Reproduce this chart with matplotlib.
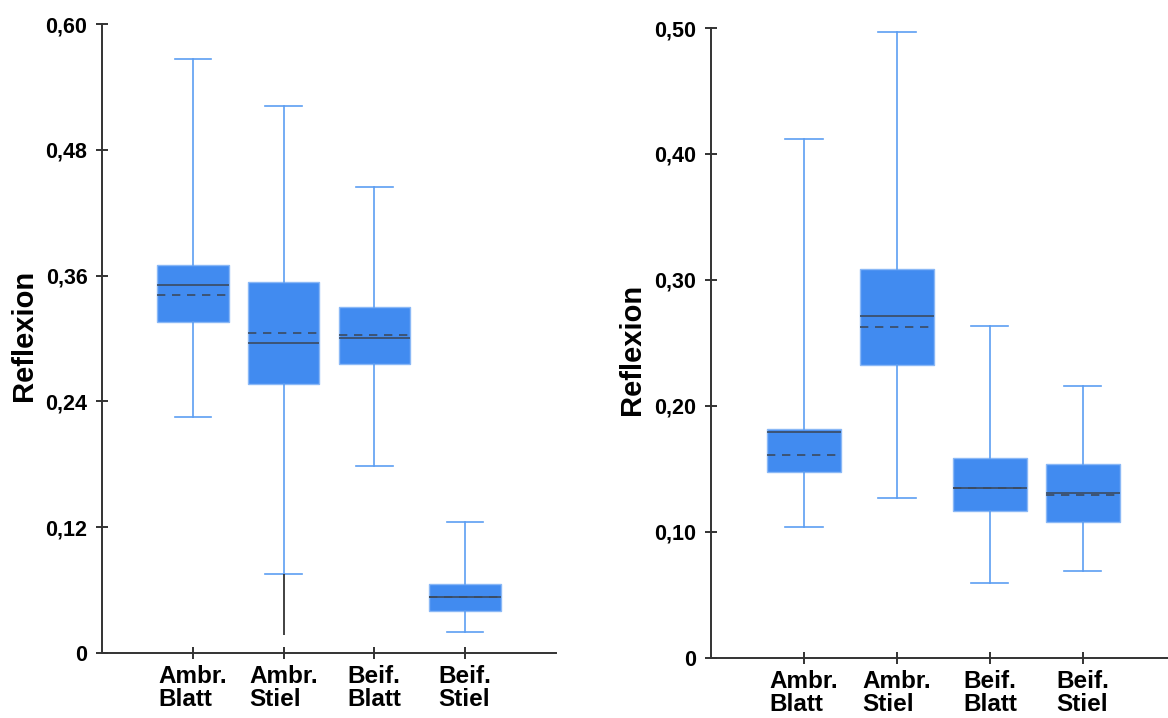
import matplotlib.pyplot as plt

plt.rcParams['font.family'] = ['Liberation Sans', 'DejaVu Sans']

# Kategorien
cats = ['Ambr.\nBlatt', 'Ambr.\nStiel', 'Beif.\nBlatt', 'Beif.\nStiel']

# linkes Diagramm
l_whislo = [0.225, 0.0755, 0.1786, 0.020]
l_q1 = [0.316, 0.257, 0.276, 0.0405]
l_med = [0.351, 0.296, 0.3005, 0.0536]
l_mean = [0.3415, 0.305, 0.303, 0.0536]
l_q3 = [0.370, 0.354, 0.330, 0.0658]
l_whishi = [0.567, 0.522, 0.4445, 0.1246]
l_min_extra = [None, 0.0175, None, None]  # schwarze Linie unter dem Whisker
l_yticks = [0, 0.12, 0.24, 0.36, 0.48, 0.60]

# rechtes Diagramm
r_whislo = [0.104, 0.127, 0.0594, 0.0687]
r_q1 = [0.1475, 0.2325, 0.1167, 0.108]
r_med = [0.1795, 0.2717, 0.1352, 0.131]
r_mean = [0.161, 0.263, 0.135, 0.129]
r_q3 = [0.1817, 0.309, 0.1587, 0.154]
r_whishi = [0.412, 0.4965, 0.2633, 0.2155]
r_yticks = [0, 0.10, 0.20, 0.30, 0.40, 0.50]

FILL = '#418bf0'
WHISK = '#5c9ef2'
LINE = '#3b4b60'


def fmt(v):
    if v == 0:
        return '0'
    return ('%.2f' % v).replace('.', ',')


def draw(ax, whislo, q1, med, mean, q3, whishi, yticks, ymax, extra=None):
    stats = []
    for i in range(len(cats)):
        stats.append(dict(whislo=whislo[i], q1=q1[i], med=med[i], mean=mean[i],
                          q3=q3[i], whishi=whishi[i], fliers=[]))
    pos = list(range(1, len(cats) + 1))
    ax.bxp(stats, positions=pos, widths=0.79, patch_artist=True,
           showmeans=True, meanline=True, showfliers=False,
           boxprops=dict(facecolor=FILL, edgecolor='#8ab8f6', linewidth=1.0),
           whiskerprops=dict(color=WHISK, linewidth=1.2),
           capprops=dict(color=WHISK, linewidth=1.2),
           capwidths=0.4,
           medianprops=dict(color=LINE, linewidth=1.2),
           meanprops=dict(color=LINE, linewidth=1.2, linestyle=(0, (5, 4))))
    if extra:
        for p, lo, e in zip(pos, whislo, extra):
            if e is not None:
                ax.vlines(p, e, lo, color='#333333', linewidth=1.3)
    ax.set_xlim(0, 5)
    ax.set_ylim(0, ymax)
    ax.set_yticks(yticks)
    ax.set_yticklabels([fmt(v) for v in yticks])
    ax.set_xticks(pos)
    ax.set_xticklabels(cats, ha='center', multialignment='left', linespacing=1.0)
    for s in ['top', 'right']:
        ax.spines[s].set_visible(False)
    for s in ['left', 'bottom']:
        ax.spines[s].set_color('#333333')
        ax.spines[s].set_linewidth(1.4)
    ax.tick_params(direction='inout', length=9, width=1.4, color='#333333')
    ax.tick_params(axis='y', labelsize=15.5, pad=6)
    ax.tick_params(axis='x', labelsize=17.5, pad=4)
    for lab in ax.get_xticklabels() + ax.get_yticklabels():
        lab.set_fontweight('bold')
    ax.set_ylabel('Reflexion', fontsize=21, fontweight='bold')


fig = plt.figure(figsize=(11.68, 7.18), dpi=100)
ax1 = fig.add_axes([0.0873, 0.0905, 0.3887, 0.876])
ax2 = fig.add_axes([0.6087, 0.0836, 0.398, 0.8774])

draw(ax1, l_whislo, l_q1, l_med, l_mean, l_q3, l_whishi, l_yticks, 0.60, l_min_extra)
draw(ax2, r_whislo, r_q1, r_med, r_mean, r_q3, r_whishi, r_yticks, 0.50)
ax1.yaxis.set_label_coords(-0.14, 0.505)
ax2.yaxis.set_label_coords(-0.14, 0.49)

fig.savefig('out.png', dpi=100)
